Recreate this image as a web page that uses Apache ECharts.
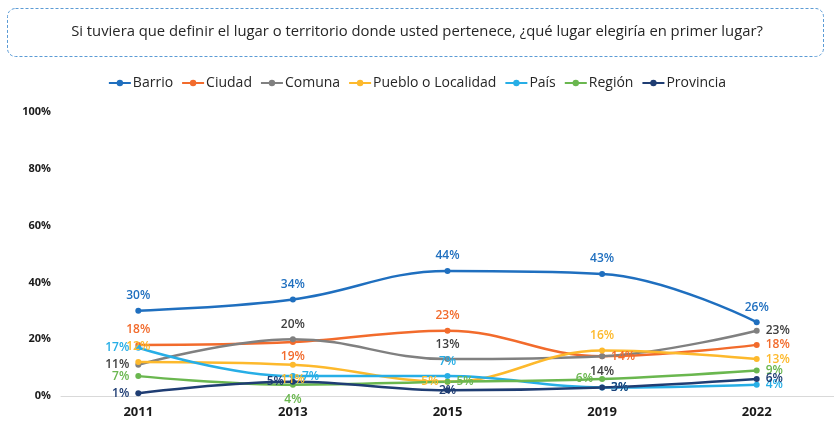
<!DOCTYPE html>
<html>
<head>
<meta charset="utf-8">
<script src="https://cdn.jsdelivr.net/npm/echarts@6/dist/echarts.min.js"></script>
<style>
  html, body { margin: 0; padding: 0; background: #fff; }
  #main { width: 834px; height: 421px; }
</style>
</head>
<body>
<div id="main"></div>
<script>
var years = ['2011', '2013', '2015', '2019', '2022'];
var seriesNames = ['Barrio', 'Ciudad', 'Comuna', 'Pueblo o Localidad', 'País', 'Región', 'Provincia'];
var barrio = [30, 34, 44, 43, 26];
var ciudad = [18, 19, 23, 14, 18];
var comuna = [11, 20, 13, 14, 23];
var pueblo = [12, 11, 5, 16, 13];
var pais = [17, 7, 7, 3, 4];
var region = [7, 4, 5, 6, 9];
var provincia = [1, 5, 2, 3, 6];
var yTicks = [0, 20, 40, 60, 80, 100];

var colors = ['#1f6fbf', '#f26b2c', '#808080', '#fdb92c', '#27aee6', '#6ab74f', '#1f3d73'];
var values = [barrio, ciudad, comuna, pueblo, pais, region, provincia];

// label placement tweaks (series name + point index)
var labelPos = {
    'Ciudad1': 'bottom', 'País0': 'left', 'País1': 'right', 'Comuna0': 'left',
    'Región0': 'left', 'Región1': 'bottom', 'Región2': 'right', 'Región3': 'left',
    'Provincia0': 'left', 'Provincia1': 'left', 'Provincia2': 'inside',
    'Pueblo o Localidad1': 'bottom', 'Pueblo o Localidad2': 'left',
    'Ciudad3': 'right', 'Comuna3': 'bottom', 'País3': 'right', 'Provincia3': 'right'
};

var myChart = echarts.init(document.getElementById('main'));

var series = [];
seriesNames.forEach(function (name, i) {
    var data = values[i].map(function (v, j) {
        var pos = 'top';
        if (j === values[i].length - 1 && name !== 'Barrio') pos = 'right';
        if (labelPos[name + j]) pos = labelPos[name + j];
        return { value: v, label: { position: pos } };
    });
    series.push({
        name: name,
        type: 'line',
        smooth: 0.4,
        symbol: 'circle',
        symbolSize: 6,
        lineStyle: { width: 2.5, color: colors[i] },
        itemStyle: { color: colors[i] },
        label: {
            show: true,
            formatter: '{c}%',
            color: colors[i] === '#808080' ? '#404040' : colors[i],
            fontFamily: 'Open Sans',
            fontSize: 12,
            fontWeight: 600,
            distance: 6
        },
        data: data
    });
});

var option = {
    animation: false,
    color: colors,
    graphic: [
        {
            type: 'rect',
            shape: { x: 7.5, y: 8.5, width: 816, height: 48, r: 8 },
            style: { fill: '#fff', stroke: '#5b9bd5', lineWidth: 1, lineDash: [3, 2] }
        },
        {
            type: 'text',
            left: 'center',
            top: 24,
            style: {
                text: 'Si tuviera que definir el lugar o territorio donde usted pertenece, ¿qué lugar elegiría en primer lugar?',
                fill: '#262626',
                font: '14.8px "Open Sans"'
            }
        }
    ],
    legend: {
        top: 71,
        left: 'center',
        itemWidth: 22,
        itemHeight: 8,
        itemGap: 8,
        textStyle: { fontFamily: 'Open Sans', fontSize: 14, color: '#262626', padding: [0, 0, 0, -3] },
        data: seriesNames
    },
    grid: { left: 61, right: -7, top: 112, bottom: 25, containLabel: false },
    xAxis: {
        type: 'category',
        boundaryGap: true,
        data: years,
        axisLine: { lineStyle: { color: '#d9d9d9', width: 1 } },
        axisTick: { show: false },
        axisLabel: { color: '#1a1a1a', fontFamily: 'Open Sans', fontSize: 13, fontWeight: 'bold', margin: 10 }
    },
    yAxis: {
        type: 'value',
        min: yTicks[0],
        max: yTicks[yTicks.length - 1],
        interval: 20,
        axisLine: { show: false },
        axisTick: { show: false },
        splitLine: { show: false },
        axisLabel: {
            formatter: '{value}%',
            color: '#1a1a1a',
            fontFamily: 'Open Sans',
            fontSize: 11,
            fontWeight: 'bold',
            margin: 10
        }
    },
    series: series
};

myChart.setOption(option);
</script>
</body>
</html>
